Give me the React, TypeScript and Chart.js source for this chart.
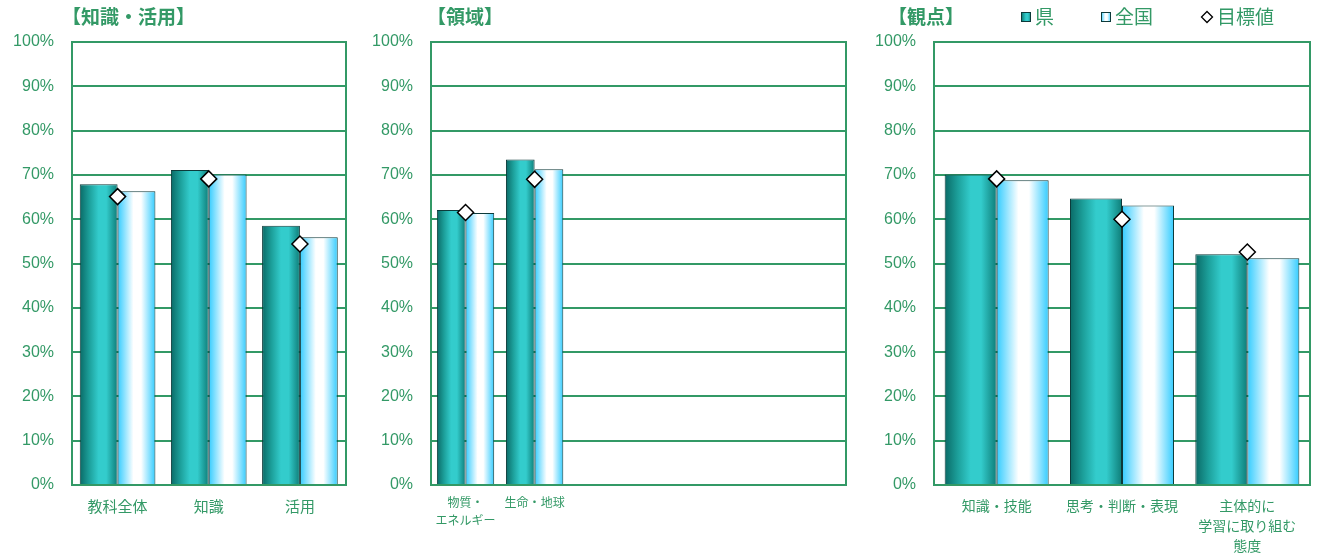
import React, { useEffect, useRef } from 'react';
import { Chart, registerables } from 'chart.js';

Chart.register(...registerables);

// ---------- data ----------
const seriesNames = ['県', '全国', '目標値'];
const yTickLabels = ['0%', '10%', '20%', '30%', '40%', '50%', '60%', '70%', '80%', '90%', '100%'];

const cats1 = ['教科全体', '知識', '活用'];
const ken1 = [67.9, 71.1, 58.5];
const zenkoku1 = [66.3, 70.1, 55.9];
const target1 = [65.1, 69.1, 54.4];

const cats2 = [['物質・', 'エネルギー'], '生命・地球', '', '', '', ''];
const ken2 = [62.1, 73.5, null, null, null, null];
const zenkoku2 = [61.4, 71.3, null, null, null, null];
const target2 = [61.5, 69.0, null, null, null, null];

const cats3 = ['知識・技能', '思考・判断・表現', ['主体的に', '学習に取り組む', '態度']];
const ken3 = [70.1, 64.7, 52.1];
const zenkoku3 = [68.8, 63.1, 51.2];
const target3 = [69.1, 60.0, 52.6];

const titles = ['【知識・活用】', '【領域】', '【観点】'];

// ---------- styles ----------
const GREEN = '#339966';
const FONT = '"Liberation Sans", "Noto Sans CJK JP", sans-serif';
const CJK = '"Noto Sans CJK JP", sans-serif';
const CAT_PCT = 0.83;
const KEN_STOPS: [number, string][] = [[0, '#0a6a66'], [0.25, '#1c9f9a'], [0.5, '#33cccc'], [0.7, '#33cccc'], [1, '#0e7d78']];
const ZEN_STOPS: [number, string][] = [[0, '#33ccff'], [0.42, '#ffffff'], [0.62, '#ffffff'], [1, '#33ccff']];

function makeGrad(ctx: CanvasRenderingContext2D, x0: number, x1: number, stops: [number, string][]) {
  const g = ctx.createLinearGradient(x0, 0, x1, 0);
  stops.forEach(([o, c]) => g.addColorStop(o, c));
  return g;
}

function barGradient(stops: [number, string][], side: number) {
  return (c: any) => {
    const chart = c.chart;
    const xs = chart.scales && chart.scales.x;
    if (c.type !== 'data' || !xs || !chart.chartArea) return stops[2][1];
    const n = xs.getLabels().length;
    const catW = xs.width / n;
    const barW = (catW * CAT_PCT) / 2;
    const center = xs.getPixelForValue(c.dataIndex);
    const left = center + side * barW;
    return makeGrad(chart.ctx, left, left + barW, stops);
  };
}

const titlePlugin = {
  id: 'panelTitle',
  afterDraw(chart: any, _args: any, opts: any) {
    const ctx = chart.ctx;
    ctx.save();
    ctx.textBaseline = 'middle';
    ctx.fillStyle = GREEN;
    ctx.font = `bold 19px ${CJK}`;
    ctx.fillText(opts.text, opts.x, opts.y);
    if (opts.legend) {
      const lg = opts.legend;
      const y = opts.y;
      ctx.font = `19px ${CJK}`;
      // 県
      ctx.fillStyle = makeGrad(ctx, lg.x1, lg.x1 + 10, KEN_STOPS);
      ctx.fillRect(lg.x1, y - 5, 10, 10);
      ctx.strokeStyle = '#0d3a3a';
      ctx.lineWidth = 1;
      ctx.strokeRect(lg.x1 + 0.5, y - 4.5, 9, 9);
      ctx.fillStyle = GREEN;
      ctx.fillText(seriesNames[0], lg.x1 + 14, y);
      // 全国
      ctx.fillStyle = makeGrad(ctx, lg.x2, lg.x2 + 10, ZEN_STOPS);
      ctx.fillRect(lg.x2, y - 5, 10, 10);
      ctx.strokeRect(lg.x2 + 0.5, y - 4.5, 9, 9);
      ctx.fillStyle = GREEN;
      ctx.fillText(seriesNames[1], lg.x2 + 14, y);
      // 目標値
      ctx.beginPath();
      ctx.moveTo(lg.x3, y - 5.5);
      ctx.lineTo(lg.x3 + 5.5, y);
      ctx.lineTo(lg.x3, y + 5.5);
      ctx.lineTo(lg.x3 - 5.5, y);
      ctx.closePath();
      ctx.fillStyle = '#ffffff';
      ctx.fill();
      ctx.strokeStyle = '#000000';
      ctx.lineWidth = 1.3;
      ctx.stroke();
      ctx.fillStyle = GREEN;
      ctx.fillText(seriesNames[2], lg.x3 + 10, y);
    }
    ctx.restore();
  },
};

type PanelCfg = {
  labels: any[];
  ken: (number | null)[];
  zenkoku: (number | null)[];
  target: (number | null)[];
  title: string;
  titleX: number;
  yWidth: number;
  padRight: number;
  xFont: number;
  xLine: number;
  xPad: number;
  legend?: { x1: number; x2: number; x3: number };
};

function buildConfig(cfg: PanelCfg): any {
  return {
    type: 'bar',
    data: {
      labels: cfg.labels,
      datasets: [
        {
          type: 'line',
          label: seriesNames[2],
          data: cfg.target,
          xAxisID: 'x',
          yAxisID: 'y',
          showLine: false,
          pointStyle: 'rectRot',
          pointRadius: 8,
          pointHoverRadius: 8,
          pointBackgroundColor: '#ffffff',
          pointBorderColor: '#000000',
          pointBorderWidth: 1.5,
          order: 0,
        },
        {
          type: 'bar',
          label: seriesNames[0],
          data: cfg.ken,
          xAxisID: 'x',
          yAxisID: 'y',
          backgroundColor: barGradient(KEN_STOPS, -1),
          borderColor: '#0d3a3a',
          borderWidth: 1,
          barPercentage: 1,
          categoryPercentage: CAT_PCT,
          order: 1,
        },
        {
          type: 'bar',
          label: seriesNames[1],
          data: cfg.zenkoku,
          xAxisID: 'x',
          yAxisID: 'y',
          backgroundColor: barGradient(ZEN_STOPS, 0),
          borderColor: '#0d3a3a',
          borderWidth: 1,
          barPercentage: 1,
          categoryPercentage: CAT_PCT,
          order: 1,
        },
      ],
    },
    options: {
      responsive: false,
      animation: false,
      devicePixelRatio: 1,
      layout: { padding: { top: 42, right: cfg.padRight, left: 0, bottom: 0 } },
      plugins: {
        legend: { display: false },
        tooltip: { enabled: false },
        panelTitle: { text: cfg.title, x: cfg.titleX, y: 17, legend: cfg.legend },
      },
      scales: {
        x: {
          grid: { display: false, drawTicks: false },
          border: { color: GREEN, width: 2 },
          ticks: {
            color: GREEN,
            font: { family: CJK, size: cfg.xFont, lineHeight: cfg.xLine },
            padding: cfg.xPad,
            maxRotation: 0,
            minRotation: 0,
            autoSkip: false,
          },
          afterFit: (s: any) => {
            s.height = 72;
          },
        },
        y: {
          min: 0,
          max: 100,
          ticks: {
            stepSize: 10,
            color: GREEN,
            font: { family: FONT, size: 16 },
            padding: 18,
            callback: (_v: any, i: number) => yTickLabels[i],
          },
          grid: { color: GREEN, lineWidth: 2, drawTicks: false },
          border: { color: GREEN, width: 2 },
          afterFit: (s: any) => {
            s.width = cfg.yWidth;
          },
        },
        y2: {
          position: 'right',
          min: 0,
          max: 100,
          ticks: { display: false },
          grid: { display: false, drawTicks: false },
          border: { color: GREEN, width: 2 },
          afterFit: (s: any) => {
            s.width = 0;
          },
        },
      },
    },
    plugins: [titlePlugin],
  };
}

function Panel({ left, width, cfg }: { left: number; width: number; cfg: PanelCfg }) {
  const ref = useRef<HTMLCanvasElement>(null);
  useEffect(() => {
    const chart = new Chart(ref.current as HTMLCanvasElement, buildConfig(cfg));
    return () => chart.destroy();
  }, []);
  return (
    <canvas
      ref={ref}
      width={width}
      height={557}
      style={{ position: 'absolute', left, top: 0, width, height: 557, display: 'block' }}
    />
  );
}

const panel1: PanelCfg = {
  labels: cats1, ken: ken1, zenkoku: zenkoku1, target: target1, title: titles[0],
  titleX: 62, yWidth: 72, padRight: 8, xFont: 15, xLine: 1.2, xPad: 12,
};
const panel2: PanelCfg = {
  labels: cats2, ken: ken2, zenkoku: zenkoku2, target: target2, title: titles[1],
  titleX: 67, yWidth: 71, padRight: 9, xFont: 12, xLine: 1.5, xPad: 8,
};
const panel3: PanelCfg = {
  labels: cats3, ken: ken3, zenkoku: zenkoku3, target: target3, title: titles[2],
  titleX: 28, yWidth: 74, padRight: 16, xFont: 14, xLine: 1.43, xPad: 11,
  legend: { x1: 161, x2: 241, x3: 347 },
};

export default function App() {
  return (
    <div style={{ position: 'absolute', left: 0, top: 0, width: 1326, height: 557, background: '#ffffff', overflow: 'hidden' }}>
      <Panel left={0} width={355} cfg={panel1} />
      <Panel left={360} width={495} cfg={panel2} />
      <Panel left={860} width={466} cfg={panel3} />
    </div>
  );
}
